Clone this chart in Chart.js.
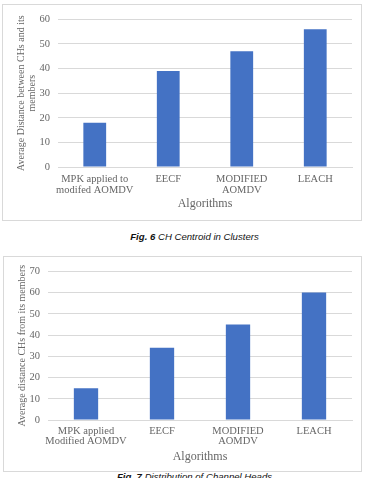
<!DOCTYPE html>
<html>
<head>
<meta charset="utf-8">
<script src="https://cdn.jsdelivr.net/npm/chart.js@4/dist/chart.umd.min.js"></script>
<style>
  html, body { margin: 0; padding: 0; background: #fff; width: 369px; height: 478px; overflow: hidden; }
  .box { position: absolute; border: 1px solid #d9d9d9; box-sizing: border-box; background: #fff; }
  .cap { position: absolute; left: 0; width: 389px; text-align: center; font-family: "Liberation Sans", Arial, sans-serif; font-style: italic; font-size: 9.6px; line-height: 12px; color: #111; white-space: nowrap; }
  .cap b { font-weight: bold; }
</style>
</head>
<body>
<div class="box" style="left:2px;top:4px;width:360px;height:217px;"><canvas id="c1"></canvas></div>
<div class="cap" style="top:231px;"><b>Fig. 6</b> CH Centroid in Clusters</div>
<div class="box" style="left:3px;top:256px;width:359px;height:216px;"><canvas id="c2"></canvas></div>
<div class="cap" style="top:471px;"><b>Fig. 7</b> Distribution of Channel Heads</div>
<script>
const categories1 = [["MPK applied to", "modifed AOMDV"], "EECF", ["MODIFIED", "AOMDV"], "LEACH"];
const values1 = [18, 39, 47, 56];
const yTitle1 = ["Average Distance between CHs and its", "members"];

const categories2 = [["MPK applied", "Modified AOMDV"], "EECF", ["MODIFIED", "AOMDV"], "LEACH"];
const values2 = [15, 34, 45, 60];
const yTitle2 = "Average distance CHs from its members";

const xTitle = "Algorithms";
const serif = "'Liberation Serif', 'Times New Roman', serif";
const gray = "#666666";

function makeChart(id, cats, vals, yMax, yTitle, cfg) {
  return new Chart(document.getElementById(id), {
    type: 'bar',
    data: {
      labels: cats,
      datasets: [{ data: vals, backgroundColor: '#4472C4', borderWidth: 0, barPercentage: cfg.barPct, categoryPercentage: 1 }]
    },
    options: {
      responsive: true,
      maintainAspectRatio: false,
      animation: false,
      plugins: { legend: { display: false }, tooltip: { enabled: false } },
      layout: { padding: { top: cfg.top, right: cfg.right, left: 0, bottom: 0 } },
      scales: {
        x: {
          grid: { display: false, drawTicks: false },
          border: { display: true, color: '#d9d9d9' },
          ticks: { color: gray, font: { family: serif, size: 10.5, lineHeight: cfg.xLH }, padding: cfg.xPad, maxRotation: 0, autoSkip: false },
          title: { display: true, text: xTitle, color: gray, font: { family: serif, size: 12 }, padding: { top: 2, bottom: cfg.xTitleBottom } },
          afterFit: s => { s.height = cfg.xHeight; }
        },
        y: {
          min: 0, max: yMax,
          grid: { color: '#d9d9d9', drawTicks: false },
          border: { display: false },
          ticks: { stepSize: 10, color: gray, font: { family: serif, size: 10.5 }, padding: 8 },
          title: { display: true, text: yTitle, color: gray, font: { family: serif, size: 10, lineHeight: 1.1 }, padding: { top: cfg.yTitleTop, bottom: 0 } },
          afterFit: s => { s.width = cfg.yWidth; }
        }
      }
    }
  });
}

makeChart('c1', categories1, values1, 60, yTitle1, { barPct: 0.31, top: 10, right: 9, xPad: 7, xLH: 1.05, xTitleBottom: 9, xHeight: 53, yWidth: 55, yTitleTop: 13 });
makeChart('c2', categories2, values2, 70, yTitle2, { barPct: 0.32, top: 10, right: 9, xPad: 6, xLH: 0.95, xTitleBottom: 7, xHeight: 51, yWidth: 44, yTitleTop: 13 });
</script>
</body>
</html>
